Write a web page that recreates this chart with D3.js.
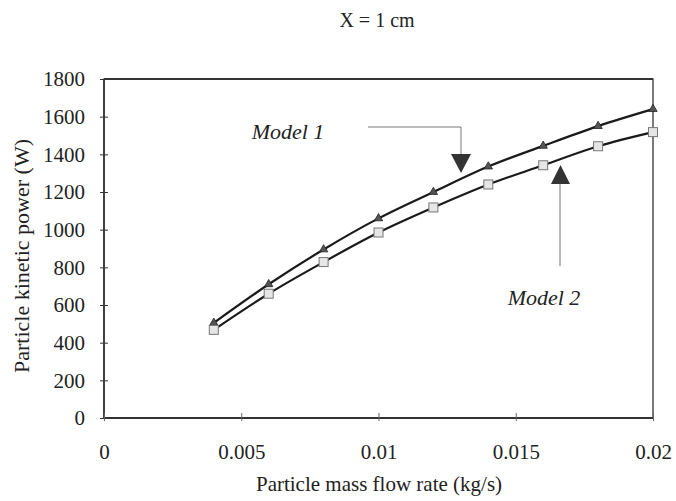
<!DOCTYPE html>
<html><head><meta charset="utf-8">
<script src="https://cdn.jsdelivr.net/npm/d3@7"></script>
<style>body{margin:0;background:#fff}svg{display:block}text{font-family:"Liberation Serif","Times New Roman",serif;fill:#222}</style>
</head><body><svg id="c" width="676" height="501"></svg>
<script>
const xValues = [0.004,0.006,0.008,0.010,0.012,0.014,0.016,0.018,0.020];
const model1 = [505,710,895,1060,1200,1335,1445,1550,1640];
const model2 = [468,660,828,985,1118,1240,1342,1443,1518];
const xTicks = [0,0.005,0.01,0.015,0.02];
const xTickLabels = ["0","0.005","0.01","0.015","0.02"];
const yTicks = [0,200,400,600,800,1000,1200,1400,1600,1800];

const svg = d3.select("#c");
const L=104,R=653,T=79,B=418;
const x = d3.scaleLinear().domain([0,0.02]).range([L,R]);
const y = d3.scaleLinear().domain([0,1800]).range([B,T]);

// frame
svg.append("rect").attr("x",L).attr("y",T).attr("width",R-L).attr("height",B-T)
  .attr("fill","none").attr("stroke","#333").attr("stroke-width",1.3);
svg.append("line").attr("x1",L).attr("x2",R).attr("y1",T).attr("y2",T).attr("stroke","#333").attr("stroke-width",2);
svg.append("line").attr("x1",L).attr("x2",R).attr("y1",B).attr("y2",B).attr("stroke","#333").attr("stroke-width",2);
svg.append("line").attr("x1",L).attr("x2",L).attr("y1",T).attr("y2",B).attr("stroke","#333").attr("stroke-width",1.6);

// y axis
const ya = d3.axisLeft(y).tickValues(yTicks).tickSize(4).tickPadding(15).tickFormat(d3.format("d"));
const gy = svg.append("g").attr("transform",`translate(${L},0)`).call(ya);
gy.select(".domain").remove();
gy.selectAll(".tick line").attr("x2",-4).attr("x1",4).attr("stroke","#333");
gy.selectAll(".tick text").attr("font-size",21).attr("font-family","Liberation Serif").attr("fill","#222");

// x axis
const xa = d3.axisBottom(x).tickValues(xTicks).tickSize(4).tickPadding(22).tickFormat((d,i)=>xTickLabels[i]);
const gx = svg.append("g").attr("transform",`translate(0,${B})`).call(xa);
gx.select(".domain").remove();
gx.selectAll(".tick line").attr("y1",-5).attr("y2",3).attr("stroke","#666");
gx.selectAll(".tick text").attr("font-size",21).attr("font-family","Liberation Serif").attr("fill","#222");

// titles
svg.append("text").attr("x",377).attr("y",27).attr("text-anchor","middle").attr("font-size",20).text("X = 1 cm");
svg.append("text").attr("x",379).attr("y",491).attr("text-anchor","middle").attr("font-size",21).text("Particle mass flow rate (kg/s)");
svg.append("text").attr("transform","translate(29,256) rotate(-90)").attr("text-anchor","middle").attr("font-size",22).text("Particle kinetic power (W)");

// lines
const line = d3.line().x((d,i)=>x(xValues[i])).y(d=>y(d)).curve(d3.curveMonotoneX);
svg.append("path").datum(model1).attr("d",line).attr("fill","none").attr("stroke","#1a1a1a").attr("stroke-width",2.2);
svg.append("path").datum(model2).attr("d",line).attr("fill","none").attr("stroke","#1a1a1a").attr("stroke-width",2.2);

// markers
const tri = d3.symbol().type(d3.symbolTriangle).size(30);
svg.selectAll(".m1").data(model1).enter().append("path")
  .attr("transform",(d,i)=>`translate(${x(xValues[i])},${y(d)})`).attr("d",tri)
  .attr("fill","#555").attr("stroke","#222").attr("stroke-width",0.8);
svg.selectAll(".m2").data(model2).enter().append("rect")
  .attr("x",(d,i)=>x(xValues[i])-4.5).attr("y",d=>y(d)-4.5).attr("width",9).attr("height",9)
  .attr("fill","#e6e6e6").attr("stroke","#777").attr("stroke-width",1);

// annotations
svg.append("text").attr("x",288).attr("y",139).attr("text-anchor","middle").attr("font-size",22).attr("font-style","italic").text("Model 1");
svg.append("polyline").attr("points","368,127 461,127 461,156").attr("fill","none").attr("stroke","#777").attr("stroke-width",1);
svg.append("path").attr("d","M451,154 L471,154 L461,173 Z").attr("fill","#333");
svg.append("text").attr("x",544).attr("y",305).attr("text-anchor","middle").attr("font-size",22).attr("font-style","italic").text("Model 2");
svg.append("line").attr("x1",560).attr("x2",560).attr("y1",182).attr("y2",266).attr("stroke","#777").attr("stroke-width",1);
svg.append("path").attr("d","M551,184 L570,184 L560.5,165 Z").attr("fill","#333");
</script></body></html>
